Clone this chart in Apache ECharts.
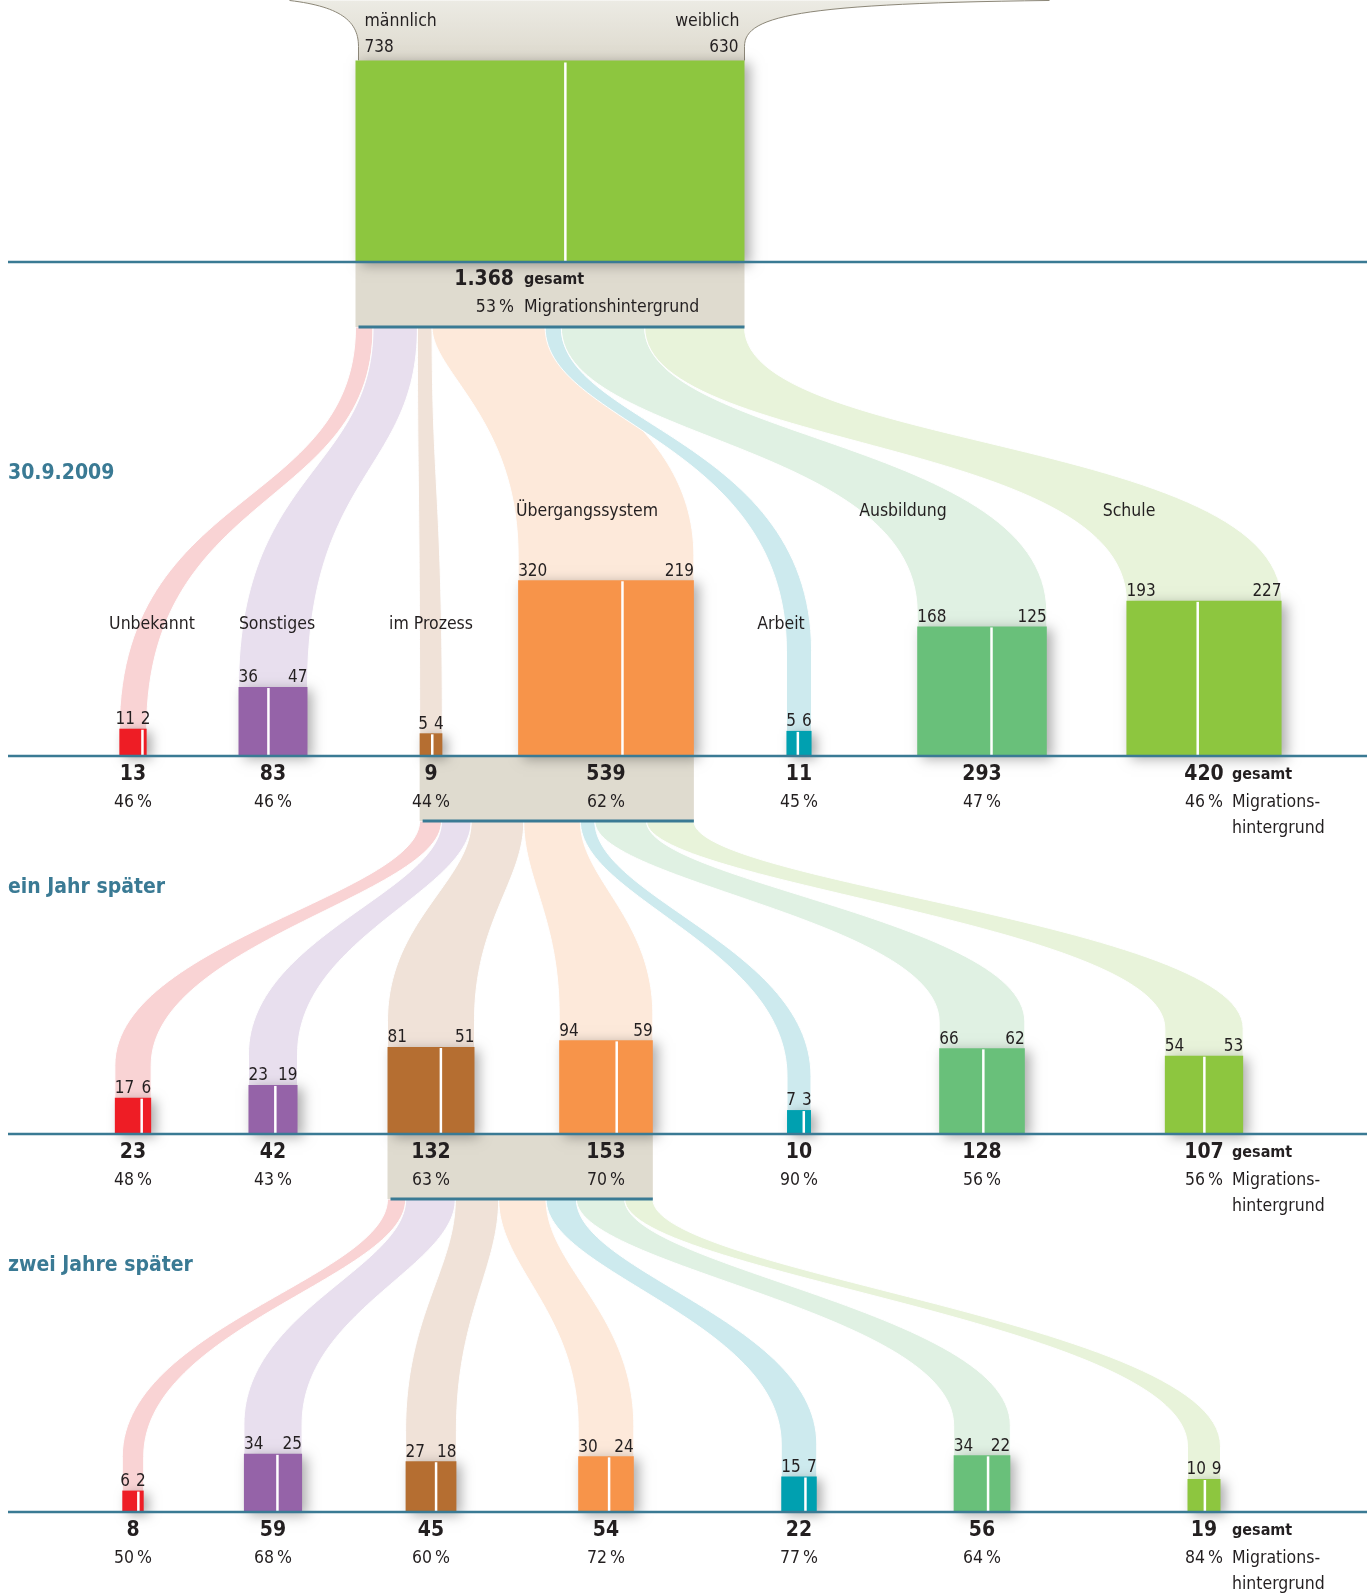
<!DOCTYPE html>
<html><head><meta charset="utf-8">
<script src="https://cdn.jsdelivr.net/npm/echarts@6/dist/echarts.min.js"></script>
<style>html,body{margin:0;padding:0;background:#fff}#c{width:1367px;height:1594px}</style>
</head><body><div id="c"></div>
<script>
// ---------------- data ----------------
const categories = ['Unbekannt', 'Sonstiges', 'im Prozess', 'Übergangssystem', 'Arbeit', 'Ausbildung', 'Schule'];
const rowTitles = ['30.9.2009', 'ein Jahr später', 'zwei Jahre später'];
const startTotal = 1368, startMale = 738, startFemale = 630, startPct = 53;

const male2009   = [11, 36, 5, 320, 5, 168, 193];
const female2009 = [2, 47, 4, 219, 6, 125, 227];
const total2009  = [13, 83, 9, 539, 11, 293, 420];
const pct2009    = [46, 46, 44, 62, 45, 47, 46];

const maleYear1   = [17, 23, 81, 94, 7, 66, 54];
const femaleYear1 = [6, 19, 51, 59, 3, 62, 53];
const totalYear1  = [23, 42, 132, 153, 10, 128, 107];
const pctYear1    = [48, 43, 63, 70, 90, 56, 56];

const maleYear2   = [6, 34, 27, 30, 15, 34, 10];
const femaleYear2 = [2, 25, 18, 24, 7, 22, 9];
const totalYear2  = [8, 59, 45, 54, 22, 56, 19];
const pctYear2    = [50, 68, 60, 72, 77, 64, 84];

// ---------------- layout / style ----------------
const W = 1367, H = 1594;
const K = 7.57;                       // px per sqrt(person) -> square side
const baseY = [262, 756, 1134, 1512]; // start row + 3 rows
const boxH = 65;
const catX = [133, 273, 431, 606, 799, 982, 1204];
const startCX = 550, startW = 389;
const lineLeft = 8;
const trackA = 2, trackB = 3;         // categories followed into next row
const catLabelDX = [19, 4, 0, -19, -18, -79, -75];
const catLabelY = [624, 624, 624, 511, 624, 511, 511];
const titleY = [474, 888, 1266];
// ribbon curve shapes [source tangent, target tangent, straight end] for the first row
const ribbonShapeFirst = [[0.45, 0.4, 0], [0.4, 0.4, 0], [0.4, 0.4, 0], [0.2, 0.4, 0.1], [0.3, 0.35, 0.2], [0.4, 0.4, 0.05], [0.45, 0.4, 0]];
const ribbonShapeLater = [0.3, 0.5, 0.12];
const barColors = ['#ee1d25', '#9563a8', '#b56e31', '#f7944a', '#00a0b0', '#69c07a', '#8dc63f'];
const ribbonColors = ['#f9d3d4', '#e8dfee', '#f0e2d8', '#fde9da', '#cdeaee', '#e0f1e3', '#e8f3da'];
const startColor = '#8dc63f';
const boxColor = '#dfdbcf';
const blue = '#3a7a94';
const ink = '#231f20';
const FONT = "'DejaVu Sans Condensed', Roboto, sans-serif";
const SZ = 17.5, SZV = 17;

const rows = [
  {male: male2009, female: female2009, total: total2009, pct: pct2009},
  {male: maleYear1, female: femaleYear1, total: totalYear1, pct: pctYear1},
  {male: maleYear2, female: femaleYear2, total: totalYear2, pct: pctYear2}
];

function side(v) { return K * Math.sqrt(v); }
function fmtNum(v) { return String(v).replace(/\B(?=(\d{3})+(?!\d))/g, '.'); }
function fmtPct(v) { return v + '\u2009%'; }
const measureCtx = document.createElement('canvas').getContext('2d');
function textW(s, size, bold) { measureCtx.font = (bold ? 'bold ' : '') + size + 'px ' + FONT; return measureCtx.measureText(s).width; }

function txt(api, x, y, s, o) {
  o = o || {};
  const p = api.coord([x, y]);
  const al = o.align || 'center';
  return {type: 'text', style: {
    text: s, x: p[0], y: p[1], fill: o.color || ink,
    font: (o.bold ? 'bold ' : '') + (o.size || SZ) + 'px ' + FONT,
    align: al, textAlign: al, verticalAlign: 'middle', textVerticalAlign: 'middle'
  }};
}

function bez(p0, p1, p2, p3, n) {
  const pts = [];
  for (let k = 0; k <= n; k++) {
    const t = k / n, u = 1 - t;
    pts.push([u*u*u*p0[0] + 3*u*u*t*p1[0] + 3*u*t*t*p2[0] + t*t*t*p3[0],
              u*u*u*p0[1] + 3*u*u*t*p1[1] + 3*u*t*t*p2[1] + t*t*t*p3[1]]);
  }
  return pts;
}
// edge of a ribbon: leaves the source vertically, arrives vertically (optionally with a straight end)
function edge(xs, ys, xd, yd, shp) {
  const a = shp[0], b = shp[1], e = shp[2];
  const yc = yd - e * (yd - ys);
  const pts = bez([xs, ys], [xs, ys + a * (yc - ys)], [xd, ys + b * (yc - ys)], [xd, yc], 60);
  if (e > 0) pts.push([xd, yd]);
  return pts;
}
// source span (x0, x1, y) for ribbons going into row r
function sourceSpan(r) {
  if (r === 0) return [startCX - startW / 2, startCX + startW / 2, baseY[0] + boxH];
  const p = rows[r - 1].total;
  return [catX[trackA] - side(p[trackA]) / 2, catX[trackB] + side(p[trackB]) / 2, baseY[r] + boxH];
}

// ---------------- series data ----------------
const barData = [], ribbonData = [];
rows.forEach((row, r) => row.total.forEach((t, i) => {
  barData.push([r, i, t, row.male[i], row.female[i], row.pct[i]]);
  ribbonData.push([r, i, t]);
}));
const startData = [[0, startTotal, startMale, startFemale, startPct]];
const boxData = [[0], [1], [2]];
const lineData = [[0], [1], [2], [3]];

// ---------------- renderers ----------------
function renderRibbon(params, api) {
  const r = api.value(0), i = api.value(1), t = api.value(2);
  const span = sourceSpan(r);
  const sq = rows[r].total.map(v => Math.sqrt(v));
  const sum = sq.reduce((a, b) => a + b, 0);
  let acc = 0; for (let j = 0; j < i; j++) acc += sq[j];
  const xa = span[0] + (span[1] - span[0]) * acc / sum;
  const xb = span[0] + (span[1] - span[0]) * (acc + sq[i]) / sum;
  const sd = side(t);
  const yd = baseY[r + 1] - sd + 1;
  const shp = r === 0 ? ribbonShapeFirst[i] : ribbonShapeLater;
  const left = edge(xa, span[2], catX[i] - sd / 2, yd, shp);
  const right = edge(xb, span[2], catX[i] + sd / 2, yd, shp).reverse();
  const pts = left.concat(right).map(p => api.coord(p));
  return {type: 'polygon', shape: {points: pts}, style: {fill: ribbonColors[i], stroke: '#fff', lineWidth: 1}};
}

function renderBox(params, api) {
  const k = api.value(0);
  const span = sourceSpan(k);
  const tl = api.coord([span[0], baseY[k]]);
  const br = api.coord([span[1], baseY[k] + boxH]);
  return {type: 'group', children: [
    {type: 'rect', shape: {x: tl[0], y: tl[1], width: br[0] - tl[0], height: br[1] - tl[1]}, style: {fill: boxColor}},
    {type: 'line', shape: {x1: tl[0] + 3, y1: br[1], x2: br[0], y2: br[1]}, style: {stroke: blue, lineWidth: 3}}
  ]};
}

function renderLine(params, api) {
  const k = api.value(0);
  const a = api.coord([lineLeft, baseY[k]]), b = api.coord([W, baseY[k]]);
  const ch = [{type: 'line', shape: {x1: a[0], y1: a[1], x2: b[0], y2: b[1]}, style: {stroke: blue, lineWidth: 2.5}}];
  if (k < 3) ch.push(txt(api, lineLeft, titleY[k], rowTitles[k], {align: 'left', bold: true, size: 21, color: blue}));
  return {type: 'group', children: ch};
}

function renderBar(params, api) {
  const r = api.value(0), i = api.value(1), tot = api.value(2), m = api.value(3), f = api.value(4), pc = api.value(5);
  const base = baseY[r + 1];
  const sd = side(tot);
  const x0 = catX[i] - sd / 2, x1 = catX[i] + sd / 2, top = base - sd;
  const tl = api.coord([x0, top]), br = api.coord([x1, base]);
  const sp = api.coord([x0 + sd * m / tot, top]);
  // push value labels apart when they do not fit above a narrow square
  const need = textW(String(m), SZV) + textW(String(f), SZV) + 6;
  const push = Math.max(0, (need - sd) / 2);
  const ch = [
    {type: 'rect', shape: {x: tl[0], y: tl[1], width: br[0] - tl[0], height: br[1] - tl[1]},
      style: {fill: barColors[i], shadowBlur: 12, shadowOffsetX: 5, shadowOffsetY: 3, shadowColor: 'rgba(0,0,0,0.32)'}},
    {type: 'line', shape: {x1: sp[0], y1: tl[1] + 1, x2: sp[0], y2: br[1]}, style: {stroke: '#fff', lineWidth: 2.5}},
    txt(api, x0 - push, top - 9, String(m), {align: 'left', size: SZV}),
    txt(api, x1 + push, top - 9, String(f), {align: 'right', size: SZV}),
    txt(api, catX[i], base + 19, fmtNum(tot), {bold: true, size: 21}),
    txt(api, catX[i], base + 46, fmtPct(pc))
  ];
  if (i === categories.length - 1) {
    ch.push(txt(api, catX[i] + 28, base + 19, 'gesamt', {align: 'left', bold: true, size: 16}));
    ch.push(txt(api, catX[i] + 28, base + 46, 'Migrations-', {align: 'left'}));
    ch.push(txt(api, catX[i] + 28, base + 72, 'hintergrund', {align: 'left'}));
  }
  if (r === 0) ch.push(txt(api, catX[i] + catLabelDX[i], catLabelY[i], categories[i]));
  return {type: 'group', children: ch};
}

function renderStart(params, api) {
  const tot = api.value(1), m = api.value(2), f = api.value(3), pc = api.value(4);
  const base = baseY[0];
  const h = K * K * tot / startW;
  const x0 = startCX - startW / 2, x1 = startCX + startW / 2, top = base - h;
  // funnel coming from above the page
  const lc = bez([x0 + 3, top - 14], [x0 + 3, top - 40], [x0 - 16, top - 54], [x0 - 66, top - 60], 30);
  const rc = bez([x1, top - 14], [x1, top - 44], [x1 + 50, top - 57], [x1 + 305, top - 60], 30);
  const poly = [[x0 + 3, top + 1]].concat(lc).concat(rc.slice().reverse()).concat([[x1, top + 1]]).map(p => api.coord(p));
  const tl = api.coord([x0, top]), br = api.coord([x1, base]);
  const sp = api.coord([x0 + startW * m / tot, top]);
  const ch = [
    {type: 'polygon', shape: {points: poly}, style: {fill: new echarts.graphic.LinearGradient(0, 0, 0, 1, [
      {offset: 0, color: '#ecebe4'}, {offset: 1, color: '#ddd9cd'}])}},
    {type: 'polyline', shape: {points: [[x0 + 3, top]].concat(lc).map(p => api.coord(p))}, style: {stroke: '#8c8778', lineWidth: 1, fill: null}},
    {type: 'polyline', shape: {points: [[x1, top]].concat(rc).map(p => api.coord(p))}, style: {stroke: '#8c8778', lineWidth: 1, fill: null}},
    {type: 'rect', shape: {x: tl[0], y: tl[1], width: br[0] - tl[0], height: br[1] - tl[1]},
      style: {fill: startColor, shadowBlur: 12, shadowOffsetX: 5, shadowOffsetY: 3, shadowColor: 'rgba(0,0,0,0.32)'}},
    {type: 'line', shape: {x1: sp[0], y1: tl[1] + 2, x2: sp[0], y2: br[1]}, style: {stroke: '#fff', lineWidth: 2.5}},
    txt(api, x0 + 9, top - 39, 'männlich', {align: 'left'}),
    txt(api, x0 + 9, top - 13, String(m), {align: 'left', size: SZV}),
    txt(api, x1 - 5, top - 39, 'weiblich', {align: 'right'}),
    txt(api, x1 - 6, top - 13, String(f), {align: 'right', size: SZV}),
    txt(api, startCX - 36, base + 18, fmtNum(tot), {align: 'right', bold: true, size: 21}),
    txt(api, startCX - 26, base + 18, 'gesamt', {align: 'left', bold: true, size: 16}),
    txt(api, startCX - 36, base + 45, fmtPct(pc), {align: 'right'}),
    txt(api, startCX - 26, base + 45, 'Migrationshintergrund', {align: 'left'})
  ];
  return {type: 'group', children: ch};
}

// ---------------- chart ----------------
const chart = echarts.init(document.getElementById('c'), null, {renderer: 'canvas'});
chart.setOption({
  animation: false,
  backgroundColor: '#ffffff',
  grid: {left: 0, right: 0, top: 0, bottom: 0},
  xAxis: {type: 'value', min: 0, max: W, show: false},
  yAxis: {type: 'value', min: 0, max: H, inverse: true, show: false},
  series: [
    {type: 'custom', name: 'ribbons', z: 1, renderItem: renderRibbon, data: ribbonData, silent: true},
    {type: 'custom', name: 'boxes', z: 2, renderItem: renderBox, data: boxData, silent: true},
    {type: 'custom', name: 'start', z: 3, renderItem: renderStart, data: startData, silent: true},
    {type: 'custom', name: 'bars', z: 3, renderItem: renderBar, data: barData, silent: true},
    {type: 'custom', name: 'lines', z: 4, renderItem: renderLine, data: lineData, silent: true}
  ]
});
</script></body></html>
